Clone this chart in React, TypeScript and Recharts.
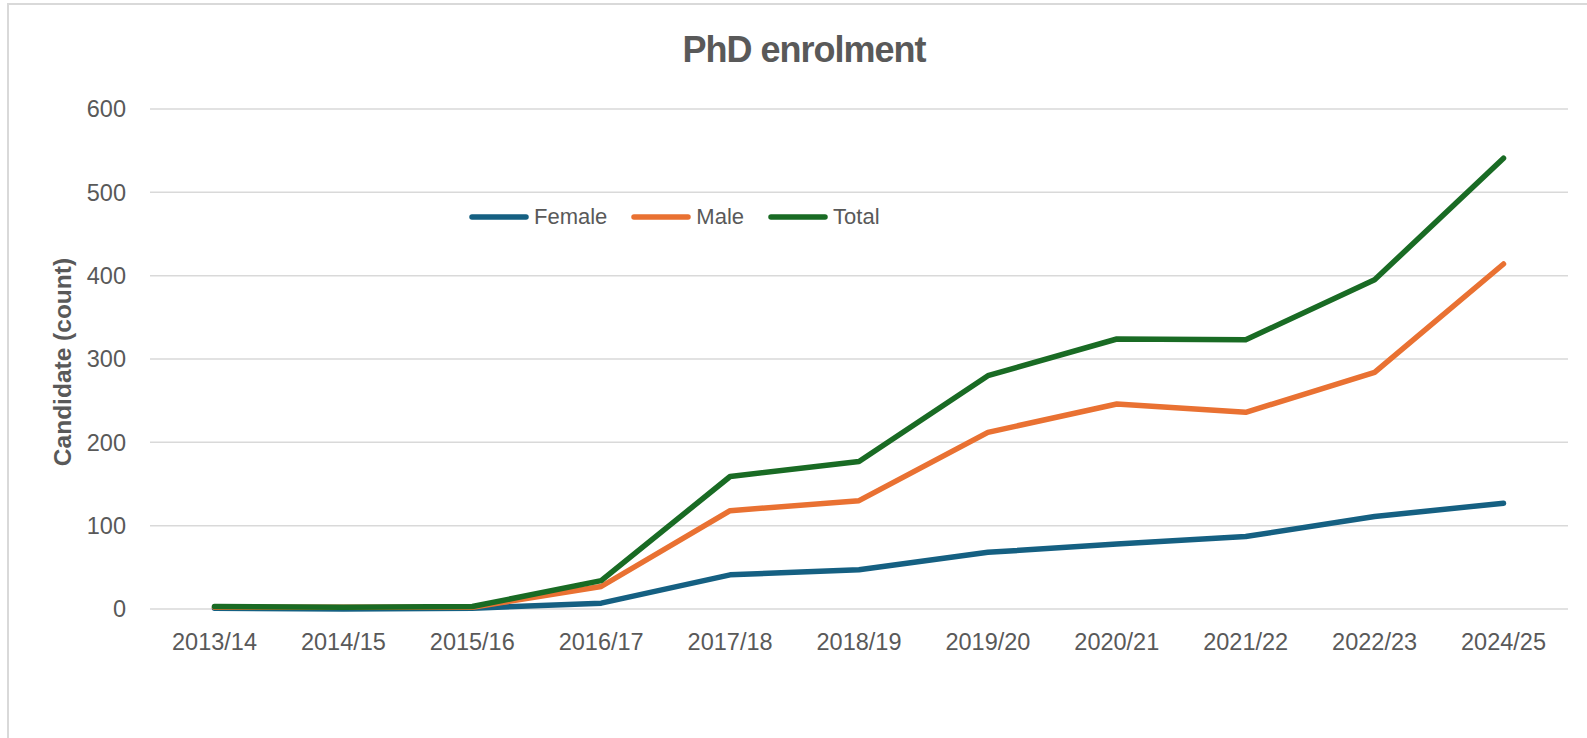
import React from 'react';
import { LineChart, Line, XAxis, YAxis, CartesianGrid, Legend } from 'recharts';

const categories = ['2013/14', '2014/15', '2015/16', '2016/17', '2017/18', '2018/19', '2019/20', '2020/21', '2021/22', '2022/23', '2024/25'];
const female = [1, 0, 1, 7, 41, 47, 68, 78, 87, 111, 127];
const male = [2, 2, 2, 27, 118, 130, 212, 246, 236, 284, 414];
const total = [3, 2, 3, 34, 159, 177, 280, 324, 323, 395, 541];
const yTicks = [0, 100, 200, 300, 400, 500, 600];

const seriesInfo = [
  { key: 'Female', color: '#156082' },
  { key: 'Male', color: '#E97132' },
  { key: 'Total', color: '#196B24' },
];

const data = categories.map((c, i) => ({ name: c, Female: female[i], Male: male[i], Total: total[i] }));

const FONT = '"Liberation Sans", Arial, sans-serif';
const TEXT = '#595959';

const LegendContent = () => (
  <div style={{ display: 'flex', alignItems: 'center', fontFamily: FONT, fontSize: 22, color: TEXT, whiteSpace: 'nowrap' }}>
    {seriesInfo.map((s, i) => (
      <div key={s.key} style={{ display: 'flex', alignItems: 'center', marginLeft: i === 0 ? 0 : 24 }}>
        <svg width={60} height={12} style={{ display: 'block' }}>
          <line x1={3} y1={6} x2={57} y2={6} stroke={s.color} strokeWidth={5.5} strokeLinecap="round" />
        </svg>
        <span style={{ marginLeft: 5, lineHeight: '24px' }}>{s.key}</span>
      </div>
    ))}
  </div>
);

const YLabel = (props: any) => {
  const vb = props.viewBox || {};
  const cx = (vb.x || 0) + 71;
  const cy = (vb.y || 0) + (vb.height || 0) / 2 + 3;
  return (
    <text x={cx} y={cy} transform={`rotate(-90, ${cx}, ${cy})`} textAnchor="middle" fontFamily={FONT} fontSize={24.5} fontWeight="bold" fill={TEXT}>
      Candidate (count)
    </text>
  );
};

export default function App() {
  return (
    <div style={{ position: 'absolute', left: 0, top: 0, width: 1587, height: 738, overflow: 'hidden', background: '#fff' }}>
      <div style={{ position: 'absolute', left: 7, top: 3, width: 1700, height: 900, borderTop: '2px solid #d9d9d9', borderLeft: '2px solid #d9d9d9' }} />
      <div style={{ position: 'absolute', left: 0, top: 32, width: 1608, textAlign: 'center', fontFamily: FONT, fontSize: 36, lineHeight: '36px', fontWeight: 'bold', color: TEXT, letterSpacing: -1 }}>
        PhD enrolment
      </div>
      <div style={{ position: 'absolute', left: 0, top: 0 }}>
        <LineChart width={1587} height={738} data={data} margin={{ top: 109, right: 19, bottom: 0, left: 0 }}>
          <CartesianGrid horizontal={true} vertical={false} stroke="#d9d9d9" strokeWidth={1.5} />
          <XAxis
            dataKey="name"
            axisLine={false}
            tickLine={false}
            tickSize={0}
            tickMargin={24}
            height={129}
            interval={0}
            padding={{ left: 64.5, right: 64.5 }}
            tick={{ fill: TEXT, fontSize: 23.5, fontFamily: FONT }}
          />
          <YAxis
            width={150}
            domain={[0, 600]}
            ticks={yTicks}
            axisLine={false}
            tickLine={false}
            tickSize={0}
            tickMargin={24}
            tick={{ fill: TEXT, fontSize: 23.5, fontFamily: FONT }}
            label={<YLabel />}
          />
          <Legend
            layout="horizontal"
            verticalAlign="middle"
            align="center"
            wrapperStyle={{ left: 469, top: 205, width: 'auto' }}
            content={<LegendContent />}
          />
          {seriesInfo.map((s) => (
            <Line
              key={s.key}
              type="linear"
              dataKey={s.key}
              stroke={s.color}
              strokeWidth={5.5}
              strokeLinecap="round"
              strokeLinejoin="round"
              dot={false}
              activeDot={false}
              isAnimationActive={false}
            />
          ))}
        </LineChart>
      </div>
    </div>
  );
}
